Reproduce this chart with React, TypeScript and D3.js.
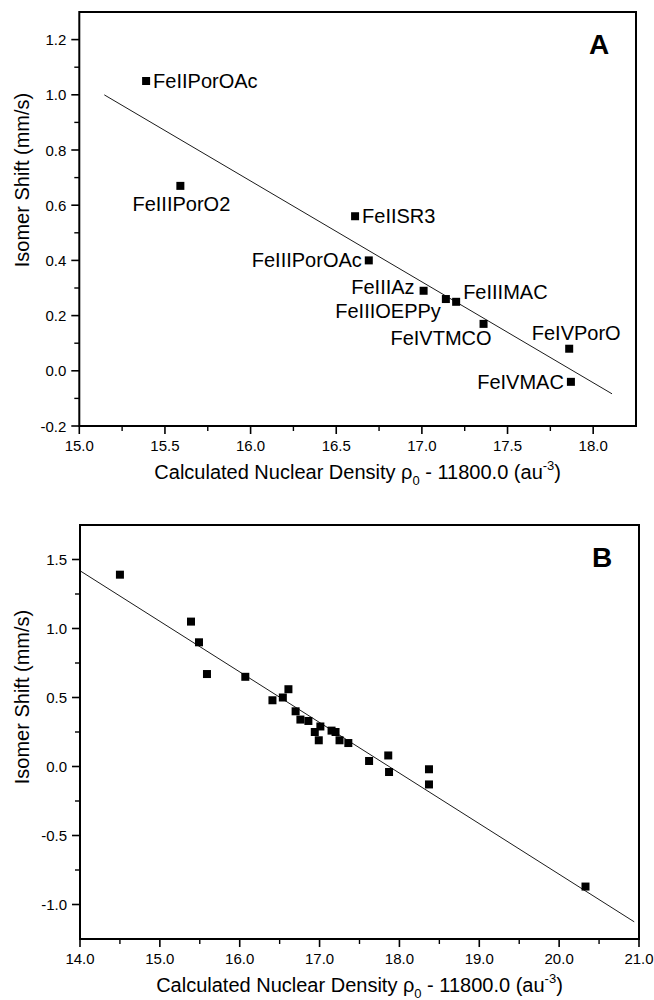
import React from "react";
import * as d3 from "d3";

// ---------- Data (panel A) ----------
const namesA = [
  "FeIIPorOAc", "FeIIIPorO2", "FeIISR3", "FeIIIPorOAc", "FeIIIAz",
  "FeIIIOEPPy", "FeIIIMAC", "FeIVTMCO", "FeIVPorO", "FeIVMAC",
];
const densityA = [15.39, 15.59, 16.61, 16.69, 17.01, 17.14, 17.2, 17.36, 17.86, 17.87];
const shiftA = [1.05, 0.67, 0.56, 0.4, 0.29, 0.26, 0.25, 0.17, 0.08, -0.04];
const fitRangeA = [15.146, 18.11];
const xTicksA = [15.0, 15.5, 16.0, 16.5, 17.0, 17.5, 18.0];
const yTicksA = [-0.2, 0.0, 0.2, 0.4, 0.6, 0.8, 1.0, 1.2];

// label placement for panel A: [anchor, dx, dy]
const labelPlaceA: [string, number, number][] = [
  ["start", 7, 7],
  ["middle", 1, 25],
  ["start", 7, 7],
  ["end", -7, 7],
  ["end", -9, 3],
  ["end", -5, 19],
  ["start", 7, -3],
  ["end", 8, 21],
  ["middle", 7, -9],
  ["end", -7, 7],
];

// ---------- Data (panel B) ----------
const densityB = [
  14.5, 15.39, 15.49, 15.59, 16.07, 16.41, 16.54, 16.61, 16.7, 16.76, 16.86,
  17.01, 16.94, 16.99, 17.15, 17.2, 17.25, 17.36, 17.62, 17.86, 17.87, 18.37,
  18.37, 20.33,
];
const shiftB = [
  1.39, 1.05, 0.9, 0.67, 0.65, 0.48, 0.5, 0.56, 0.4, 0.34, 0.33,
  0.29, 0.25, 0.19, 0.26, 0.25, 0.19, 0.17, 0.04, 0.08, -0.04, -0.02,
  -0.13, -0.87,
];
const fitRangeB = [14.0, 20.94];
const xTicksB = [14.0, 15.0, 16.0, 17.0, 18.0, 19.0, 20.0, 21.0];
const yTicksB = [-1.0, -0.5, 0.0, 0.5, 1.0, 1.5];

const FONT = "'Liberation Sans', Arial, Helvetica, sans-serif";

function linfit(xs: number[], ys: number[]) {
  const mx = d3.mean(xs)!;
  const my = d3.mean(ys)!;
  let sxy = 0, sxx = 0;
  xs.forEach((x, i) => {
    sxy += (x - mx) * (ys[i] - my);
    sxx += (x - mx) * (x - mx);
  });
  const b = sxy / sxx;
  return (x: number) => my + b * (x - mx);
}

function minors(domain: [number, number], step: number, majors: number[]) {
  const out: number[] = [];
  const n = Math.round((domain[1] - domain[0]) / step);
  for (let i = 0; i <= n; i++) {
    const v = +(domain[0] + i * step).toFixed(4);
    if (!majors.some((m) => Math.abs(m - v) < 1e-6)) out.push(v);
  }
  return out;
}

type PanelProps = {
  xDomain: [number, number];
  yDomain: [number, number];
  left: number;
  right: number;
  top: number;
  bottom: number;
  xTicks: number[];
  yTicks: number[];
  xMinorStep: number;
  yMinorStep: number;
  xs: number[];
  ys: number[];
  fitRange: number[];
  letter: string;
  names?: string[];
  place?: [string, number, number][];
  yTitleCenter: number;
  xTitleY: number;
};

function Panel(p: PanelProps) {
  const x = d3.scaleLinear().domain(p.xDomain).range([p.left, p.right]);
  const y = d3.scaleLinear().domain(p.yDomain).range([p.bottom, p.top]);
  const fit = linfit(p.xs, p.ys);
  const line = d3.line<number>().x((d) => x(d)).y((d) => y(fit(d)));
  const xMin = minors(p.xDomain, p.xMinorStep, p.xTicks).filter(
    (v) => v > p.xDomain[0] && v < p.xDomain[1]
  );
  const yMin = minors(p.yDomain, p.yMinorStep, p.yTicks).filter(
    (v) => v > p.yDomain[0] && v < p.yDomain[1]
  );
  const ms = 8;
  const cx = (p.left + p.right) / 2;
  return (
    <g fontFamily={FONT} fill="#000">
      <path d={line(p.fitRange) || ""} stroke="#000" strokeWidth={0.9} fill="none" />
      {p.xs.map((d, i) => (
        <rect
          key={"m" + i}
          x={x(d) - ms / 2}
          y={y(p.ys[i]) - ms / 2}
          width={ms}
          height={ms}
          fill="#000"
        />
      ))}
      {p.names &&
        p.names.map((n, i) => (
          <text
            key={"l" + i}
            x={x(p.xs[i]) + p.place![i][1]}
            y={y(p.ys[i]) + p.place![i][2]}
            textAnchor={p.place![i][0] as any}
            fontSize={20}
          >
            {n}
          </text>
        ))}
      <rect
        x={p.left}
        y={p.top}
        width={p.right - p.left}
        height={p.bottom - p.top}
        fill="none"
        stroke="#000"
        strokeWidth={2}
      />
      {p.xTicks.map((t) => (
        <g key={"xt" + t}>
          <line x1={x(t)} x2={x(t)} y1={p.bottom} y2={p.bottom + 8} stroke="#000" strokeWidth={1.6} />
          <text x={x(t)} y={p.bottom + 25} textAnchor="middle" fontSize={15}>
            {t.toFixed(1)}
          </text>
        </g>
      ))}
      {xMin.map((t) => (
        <line key={"xm" + t} x1={x(t)} x2={x(t)} y1={p.bottom} y2={p.bottom + 5} stroke="#000" strokeWidth={1.4} />
      ))}
      {p.yTicks.map((t) => (
        <g key={"yt" + t}>
          <line x1={p.left - 8} x2={p.left} y1={y(t)} y2={y(t)} stroke="#000" strokeWidth={1.6} />
          <text x={p.left - 13} y={y(t) + 5.5} textAnchor="end" fontSize={15}>
            {t.toFixed(1)}
          </text>
        </g>
      ))}
      {yMin.map((t) => (
        <line key={"ym" + t} x1={p.left - 5} x2={p.left} y1={y(t)} y2={y(t)} stroke="#000" strokeWidth={1.4} />
      ))}
      <text
        transform={`translate(29,${p.yTitleCenter}) rotate(-90)`}
        textAnchor="middle"
        fontSize={20}
      >
        Isomer Shift (mm/s)
      </text>
      <text x={cx} y={p.xTitleY} textAnchor="middle" fontSize={20}>
        Calculated Nuclear Density ρ
        <tspan fontSize={13} dy={6}>0</tspan>
        <tspan dy={-6}> - 11800.0 (au</tspan>
        <tspan fontSize={13} dy={-9}>-3</tspan>
        <tspan dy={9}>)</tspan>
      </text>
      <text x={p.right - 37} y={p.top + 42} textAnchor="middle" fontSize={28} fontWeight="bold">
        {p.letter}
      </text>
    </g>
  );
}

export default function App() {
  return (
    <svg width={654} height={1000} style={{ position: "absolute", left: 0, top: 0 }}>
      <rect x={0} y={0} width={654} height={1000} fill="#fff" />
      <Panel
        xDomain={[15, 18.25]}
        yDomain={[-0.2, 1.3]}
        left={79.3}
        right={636}
        top={12}
        bottom={426}
        xTicks={xTicksA}
        yTicks={yTicksA}
        xMinorStep={0.25}
        yMinorStep={0.1}
        xs={densityA}
        ys={shiftA}
        fitRange={fitRangeA}
        letter="A"
        names={namesA}
        place={labelPlaceA}
        yTitleCenter={180}
        xTitleY={479}
      />
      <Panel
        xDomain={[14, 21]}
        yDomain={[-1.25, 1.75]}
        left={80}
        right={639}
        top={525}
        bottom={939}
        xTicks={xTicksB}
        yTicks={yTicksB}
        xMinorStep={0.5}
        yMinorStep={0.25}
        xs={densityB}
        ys={shiftB}
        fitRange={fitRangeB}
        letter="B"
        yTitleCenter={697}
        xTitleY={992}
      />
    </svg>
  );
}
